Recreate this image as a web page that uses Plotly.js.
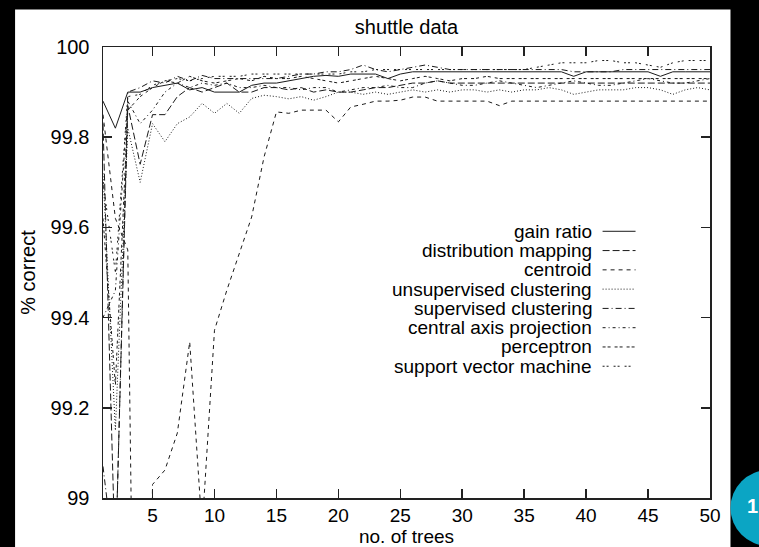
<!DOCTYPE html>
<html>
<head>
<meta charset="utf-8">
<script src="https://cdn.plot.ly/plotly-3.0.1.min.js"></script>
<style>
  html, body { margin: 0; padding: 0; background: #000; }
  #chart { width: 759px; height: 547px; }
</style>
</head>
<body>
<div id="chart"></div>
<script>
// ---- data ----
const trees = Array.from({length: 50}, (_, i) => i + 1);

const seriesNames = ["gain ratio", "distribution mapping", "centroid", "unsupervised clustering",
  "supervised clustering", "central axis projection", "perceptron", "support vector machine"];

const gainRatio = [99.88, 99.82, 99.90, 99.90, 99.91, 99.915, 99.92, 99.905, 99.91, 99.90,
  99.90, 99.90, 99.915, 99.92, 99.92, 99.925, 99.93, 99.935, 99.937, 99.935,
  99.94, 99.94, 99.94, 99.93, 99.94, 99.945, 99.945, 99.945, 99.945, 99.945,
  99.945, 99.945, 99.945, 99.945, 99.945, 99.945, 99.945, 99.945, 99.935, 99.945,
  99.945, 99.945, 99.945, 99.945, 99.945, 99.935, 99.945, 99.945, 99.945, 99.945];

const distributionMapping = [99.83, 98.85, 99.87, 99.74, 99.85, 99.85, 99.89, 99.91, 99.90, 99.91,
  99.92, 99.90, 99.90, 99.91, 99.91, 99.905, 99.91, 99.90, 99.905, 99.90,
  99.90, 99.905, 99.91, 99.91, 99.915, 99.92, 99.92, 99.925, 99.92, 99.92,
  99.92, 99.92, 99.92, 99.92, 99.92, 99.92, 99.92, 99.92, 99.92, 99.92,
  99.92, 99.92, 99.92, 99.92, 99.92, 99.92, 99.92, 99.92, 99.92, 99.92];

const centroid = [99.85, 99.62, 99.55, 97.5, 99.03, 99.062, 99.144, 99.346, 98.93, 99.372,
  99.461, 99.543, 99.623, 99.756, 99.856, 99.853, 99.86, 99.86, 99.86, 99.834,
  99.867, 99.873, 99.88, 99.88, 99.882, 99.889, 99.889, 99.88, 99.88, 99.88,
  99.88, 99.88, 99.87, 99.88, 99.88, 99.88, 99.88, 99.88, 99.88, 99.88,
  99.88, 99.88, 99.88, 99.88, 99.88, 99.88, 99.88, 99.88, 99.88, 99.88];

const unsupervisedClustering = [99.72, 99.15, 99.82, 99.70, 99.83, 99.79, 99.83, 99.845, 99.875, 99.853,
  99.875, 99.853, 99.886, 99.893, 99.89, 99.885, 99.89, 99.882, 99.89, 99.90,
  99.90, 99.895, 99.90, 99.895, 99.90, 99.905, 99.90, 99.905, 99.90, 99.905,
  99.905, 99.90, 99.905, 99.90, 99.905, 99.905, 99.91, 99.905, 99.895, 99.90,
  99.905, 99.905, 99.905, 99.91, 99.91, 99.905, 99.895, 99.905, 99.91, 99.905];

const supervisedClustering = [99.07, 98.84, 99.90, 99.91, 99.925, 99.92, 99.935, 99.925, 99.937, 99.93,
  99.93, 99.93, 99.93, 99.93, 99.93, 99.935, 99.94, 99.94, 99.945, 99.945,
  99.95, 99.96, 99.95, 99.945, 99.95, 99.955, 99.96, 99.955, 99.95, 99.95,
  99.95, 99.95, 99.95, 99.95, 99.95, 99.95, 99.95, 99.95, 99.945, 99.945,
  99.945, 99.945, 99.95, 99.95, 99.95, 99.95, 99.95, 99.95, 99.95, 99.95];

const centralAxisProjection = [99.40, 99.46, 99.88, 99.83, 99.86, 99.90, 99.92, 99.91, 99.92, 99.915,
  99.92, 99.91, 99.91, 99.915, 99.91, 99.91, 99.905, 99.91, 99.91, 99.90,
  99.905, 99.91, 99.91, 99.915, 99.91, 99.91, 99.92, 99.925, 99.92, 99.915,
  99.915, 99.92, 99.925, 99.92, 99.915, 99.91, 99.915, 99.92, 99.925, 99.92,
  99.915, 99.915, 99.92, 99.925, 99.93, 99.925, 99.92, 99.92, 99.925, 99.93];

const perceptron = [99.62, 99.25, 99.86, 99.89, 99.91, 99.925, 99.92, 99.935, 99.925, 99.92,
  99.925, 99.93, 99.925, 99.935, 99.93, 99.93, 99.935, 99.93, 99.925, 99.92,
  99.925, 99.93, 99.935, 99.93, 99.925, 99.93, 99.935, 99.93, 99.925, 99.93,
  99.93, 99.935, 99.93, 99.93, 99.93, 99.93, 99.93, 99.93, 99.93, 99.93,
  99.93, 99.93, 99.93, 99.93, 99.93, 99.93, 99.93, 99.93, 99.93, 99.93];

const supportVectorMachine = [99.70, 99.50, 99.89, 99.895, 99.915, 99.925, 99.93, 99.925, 99.93, 99.935,
  99.935, 99.935, 99.94, 99.94, 99.94, 99.94, 99.94, 99.94, 99.94, 99.94,
  99.945, 99.945, 99.95, 99.95, 99.95, 99.95, 99.95, 99.95, 99.95, 99.95,
  99.95, 99.95, 99.95, 99.95, 99.95, 99.955, 99.96, 99.965, 99.965, 99.965,
  99.97, 99.97, 99.965, 99.965, 99.96, 99.955, 99.965, 99.97, 99.97, 99.97];

const xTickVals = [5, 10, 15, 20, 25, 30, 35, 40, 45, 50];
const yTickVals = [99, 99.2, 99.4, 99.6, 99.8, 100];
const yTickText = ["99", "99.2", "99.4", "99.6", "99.8", "100"];

// ---- styling ----
const allSeries = [gainRatio, distributionMapping, centroid, unsupervisedClustering,
  supervisedClustering, centralAxisProjection, perceptron, supportVectorMachine];
const dashes = ["solid", "7px,3px", "4px,4px", "1px,2px", "6px,3px,1px,3px",
  "3px,3px,1px,3px", "3px,2px,3px,4px", "2px,2px,2px,5px"];
const lineColor = "#1a1a1a";
const FONT = "Liberation Sans, Arial, Helvetica, sans-serif";
const FS = 20;
const FS_SMALL = 19;

const W = 759, H = 547;
const M = {l: 103, r: 48.5, t: 46.5, b: 49};
const PW = W - M.l - M.r, PH = H - M.t - M.b;
const px2x = px => (px - M.l) / PW;
const py2y = py => (H - M.b - py) / PH;

const traces = allSeries.map((ys, i) => ({
  type: "scatter", mode: "lines", x: trees, y: ys, name: seriesNames[i],
  line: {color: lineColor, width: 1, dash: dashes[i]}, showlegend: false,
  hoverinfo: "skip"
}));

const shapes = [
  // white page area over black surround
  {type: "rect", xref: "paper", yref: "paper", layer: "below",
   x0: px2x(15), x1: px2x(731), y0: py2y(9), y1: py2y(H + 5),
   fillcolor: "#ffffff", line: {width: 0}},
  // teal badge
  {type: "circle", xref: "paper", yref: "paper", layer: "above",
   x0: px2x(731), x1: px2x(807), y0: py2y(470), y1: py2y(546),
   fillcolor: "#0ba5c4", line: {width: 0}}
];
const annotations = [
  {xref: "paper", yref: "paper", x: px2x(746), y: py2y(506), text: "<b>1</b>",
   showarrow: false, xanchor: "left", yanchor: "middle",
   font: {family: FONT, size: 20, color: "#ffffff"}}
];

// legend (text right-aligned, sample to the right)
const legTextRight = 593, legSample0 = 603, legSample1 = 636, legTop = 231, legStep = 19.3;
seriesNames.forEach((name, i) => {
  const yy = legTop + i * legStep;
  annotations.push({xref: "paper", yref: "paper", x: px2x(legTextRight), y: py2y(yy),
    text: name, showarrow: false, xanchor: "right", yanchor: "middle", borderpad: 0,
    font: {family: FONT, size: FS_SMALL, color: "#000"}});
  shapes.push({type: "line", xref: "paper", yref: "paper",
    x0: px2x(legSample0), x1: px2x(legSample1), y0: py2y(yy), y1: py2y(yy),
    line: {color: lineColor, width: 1, dash: dashes[i]}});
});

const axisCommon = {
  showgrid: false, zeroline: false, showline: true, linecolor: "#222", linewidth: 1.5,
  mirror: "ticks", ticks: "inside", ticklen: 9, tickwidth: 1.5, tickcolor: "#222",
  tickfont: {family: FONT, size: FS, color: "#000"}, fixedrange: true
};

const layout = {
  width: W, height: H,
  margin: M,
  paper_bgcolor: "#000000",
  plot_bgcolor: "#ffffff",
  showlegend: false,
  title: {text: "shuttle data", font: {family: FONT, size: FS, color: "#000"},
          x: 0.5, xref: "paper", xanchor: "center", y: 1 - 27 / H, yref: "container", yanchor: "middle"},
  xaxis: Object.assign({}, axisCommon, {
    range: [1, 50], tickmode: "array", tickvals: xTickVals,
    tickfont: {family: FONT, size: FS_SMALL, color: "#000"},
    ticklabelstandoff: 0,
    title: {text: "no. of trees", font: {family: FONT, size: FS_SMALL, color: "#000"}, standoff: 3}
  }),
  yaxis: Object.assign({}, axisCommon, {
    range: [99, 100], tickmode: "array", tickvals: yTickVals, ticktext: yTickText,
    ticklabelstandoff: 8,
    title: {text: "% correct", font: {family: FONT, size: FS, color: "#000"}, standoff: 9}
  }),
  shapes: shapes,
  annotations: annotations
};

Plotly.newPlot("chart", traces, layout, {displayModeBar: false, staticPlot: true});
</script>
</body>
</html>
